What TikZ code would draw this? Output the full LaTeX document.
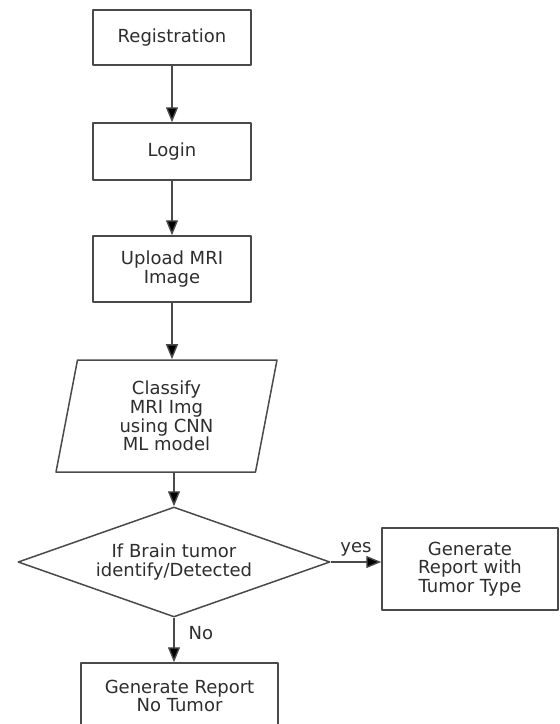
\documentclass[tikz,border=0pt]{standalone}
\usepackage{fontspec}
\setmainfont{DejaVu Sans}
\usetikzlibrary{shapes.geometric,arrows.meta}
\definecolor{ink}{HTML}{2E2E2E}
\definecolor{rim}{HTML}{4A4A4A}
\tikzset{
  box/.style={draw=rim,line width=1.5pt,text=ink,align=center,inner sep=0pt,font=\fontsize{18}{18.8}\selectfont},
  flow/.style={draw=rim,line width=1.4pt,-{Triangle[length=15pt,width=12pt,fill=black]}},
  tag/.style={text=ink,font=\fontsize{18}{18.8}\selectfont}
}
\begin{document}
\begin{tikzpicture}[x=1pt,y=-1pt,line join=round]
\clip (0,0) rectangle (560,724);
\fill[white] (0,0) rectangle (560,724);
\node[box,minimum width=158pt,minimum height=55pt] (reg) at (172,37.5) {Registration};
\node[box,minimum width=158pt,minimum height=57pt] (login) at (172,151.5) {Login};
\node[box,minimum width=158pt,minimum height=66pt] (upl) at (172,269) {Upload MRI\\Image};
\node[box,trapezium,trapezium left angle=73,trapezium right angle=107,trapezium stretches body,minimum width=221pt,minimum height=112pt] (cls) at (166.5,416) {Classify\\MRI Img\\using CNN\\ML model};
\node[box,diamond,shape aspect=2.84,minimum width=312pt,minimum height=110pt] (dia) at (174,562) {If Brain tumor\\identify/Detected};
\node[box,minimum width=176pt,minimum height=82pt] (typ) at (470,569) {Generate\\Report with\\Tumor Type};
\node[box,minimum width=197pt,minimum height=66pt] (none) at (179.5,696) {Generate Report\\No Tumor};
\draw[flow] (reg) -- (login);
\draw[flow] (login) -- (upl);
\draw[flow] (upl.south) -- (upl.south |- cls.north);
\draw[flow] (cls.south -| dia.north) -- (dia.north);
\draw[flow] (dia.east) -- (dia.east -| typ.west) node[tag,midway,above,inner sep=5pt] (yes) {yes};
\draw[flow] (dia.south) -- (dia.south |- none.north) node[tag,pos=0.35,right,xshift=14pt,inner sep=0pt] (no) {No};
\end{tikzpicture}
\end{document}
